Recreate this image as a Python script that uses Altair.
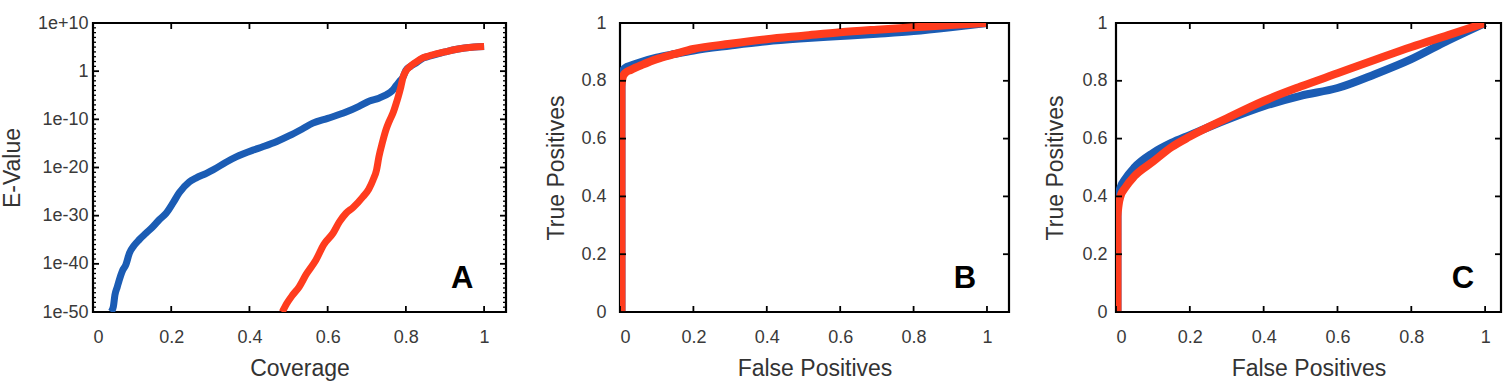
import altair as alt
import pandas as pd

# ---------------- Panel A: Coverage vs log10(E-value) ----------------
a_blue_cov = [0.046, 0.052, 0.056, 0.062, 0.067, 0.075, 0.084, 0.093, 0.105, 0.118, 0.136, 0.153,
              0.170, 0.187, 0.205, 0.220, 0.246, 0.263, 0.290, 0.307, 0.340, 0.366, 0.409, 0.434,
              0.470, 0.502, 0.535, 0.562, 0.600, 0.647, 0.680, 0.707, 0.731, 0.758, 0.767, 0.775,
              0.785, 0.793, 0.800, 0.812, 0.826, 0.844, 0.860, 0.877, 0.900, 0.920, 0.950, 0.975, 1.000]
a_blue_logE = [-50, -48.9, -46.5, -44.8, -43.4, -41.5, -40.2, -37.8, -36.2, -35.0, -33.6, -32.3,
               -30.8, -29.5, -27.3, -25.3, -23.0, -22.2, -21.2, -20.5, -18.9, -17.8, -16.4, -15.7,
               -14.6, -13.4, -12.0, -10.8, -9.8, -8.5, -7.3, -6.2, -5.6, -4.5, -3.9, -3.0,
               -2.0, -1.2, 0.2, 1.0, 1.7, 2.7, 3.1, 3.5, 4.0, 4.4, 4.8, 5.0, 5.1]
a_red_cov = [0.484, 0.495, 0.510, 0.527, 0.545, 0.570, 0.590, 0.614, 0.630, 0.647, 0.665, 0.690,
             0.705, 0.716, 0.725, 0.731, 0.740, 0.749, 0.758, 0.767, 0.774, 0.780, 0.787, 0.793,
             0.800, 0.810, 0.826, 0.844, 0.860, 0.877, 0.900, 0.920, 0.950, 0.975, 1.000]
a_red_logE = [-50, -48.3, -46.5, -44.8, -42.2, -39.2, -36.0, -33.6, -31.3, -29.5, -28.3, -26.1,
              -24.5, -22.6, -20.5, -17.8, -14.8, -12.2, -10.3, -8.7, -7.0, -5.4, -3.3, -1.2,
              0.0, 0.9, 1.9, 2.8, 3.2, 3.6, 4.0, 4.4, 4.8, 5.0, 5.1]

# ---------------- Panel B: ROC ----------------
b_blue_fp = [0.004, 0.004, 0.008, 0.015, 0.03, 0.06, 0.10, 0.15, 0.20, 0.30, 0.40, 0.50, 0.60, 0.70, 0.80, 0.90, 1.00]
b_blue_tp = [0.0, 0.80, 0.835, 0.845, 0.853, 0.866, 0.880, 0.893, 0.905, 0.922, 0.937, 0.947, 0.955, 0.963, 0.972, 0.985, 1.0]
b_red_fp = [0.004, 0.004, 0.008, 0.015, 0.03, 0.06, 0.10, 0.15, 0.20, 0.30, 0.40, 0.50, 0.60, 0.70, 0.80, 0.90, 1.00]
b_red_tp = [0.0, 0.78, 0.815, 0.828, 0.838, 0.855, 0.875, 0.893, 0.910, 0.928, 0.944, 0.956, 0.968, 0.977, 0.985, 0.993, 1.0]

# ---------------- Panel C: ROC ----------------
c_blue_fp = [0.004, 0.004, 0.007, 0.012, 0.025, 0.05, 0.10, 0.15, 0.20, 0.30, 0.40, 0.50, 0.60, 0.70, 0.80, 0.90, 1.00]
c_blue_tp = [0.0, 0.36, 0.40, 0.43, 0.46, 0.50, 0.55, 0.585, 0.612, 0.665, 0.712, 0.748, 0.775, 0.822, 0.875, 0.940, 1.0]
c_red_fp = [0.004, 0.004, 0.007, 0.012, 0.025, 0.05, 0.10, 0.15, 0.20, 0.30, 0.40, 0.50, 0.60, 0.70, 0.80, 0.90, 1.00]
c_red_tp = [0.0, 0.33, 0.37, 0.40, 0.43, 0.47, 0.52, 0.57, 0.607, 0.670, 0.730, 0.780, 0.826, 0.872, 0.917, 0.958, 1.0]

x_ticks = [0, 0.2, 0.4, 0.6, 0.8, 1]
a_y_ticks = [-50, -40, -30, -20, -10, 0, 10]
a_y_minor = [v for v in range(-50, 11) if v % 10 != 0]
roc_y_ticks = [0, 0.2, 0.4, 0.6, 0.8, 1]

BLUE = "#1b5cb4"
RED = "#ff3c1e"
FONT = "Liberation Sans"
LABEL_COLOR = "#3a3a3a"
TITLE_COLOR = "#333333"


def line_layer(xs, ys, color, sw, xdom, ydom, xaxis=None, yaxis=None):
    df = pd.DataFrame({"x": xs, "y": ys, "o": list(range(len(xs)))})
    xkw = dict(scale=alt.Scale(domain=xdom, nice=False, zero=False))
    ykw = dict(scale=alt.Scale(domain=ydom, nice=False, zero=False))
    if xaxis is not None:
        xkw["axis"] = xaxis
    if yaxis is not None:
        ykw["axis"] = yaxis
    return alt.Chart(df).mark_line(color=color, strokeWidth=sw, interpolate="monotone", clip=True).encode(
        x=alt.X("x:Q", **xkw),
        y=alt.Y("y:Q", **ykw),
        order="o:Q",
    )


def panel(lines, W, H, xdom, ydom, yticks, ytitle, xtitle, ylabel_expr, letter, lx, ly,
          ylab_pad, ytitle_pad, minor=None):
    xaxis = alt.Axis(values=x_ticks, format="~g", title=xtitle, ticks=False, domain=False, grid=False,
                     labelFont=FONT, labelFontSize=18, labelColor=LABEL_COLOR, labelPadding=16,
                     titleFont=FONT, titleFontSize=23, titleFontWeight="normal", titleColor=TITLE_COLOR,
                     titlePadding=11)
    yargs = dict(values=yticks, title=ytitle, ticks=False, domain=False, grid=False,
                 labelFont=FONT, labelFontSize=18, labelColor=LABEL_COLOR, labelPadding=ylab_pad,
                 titleFont=FONT, titleFontSize=23, titleFontWeight="normal", titleColor=TITLE_COLOR,
                 titlePadding=ytitle_pad)
    if ylabel_expr:
        yargs["labelExpr"] = ylabel_expr
    else:
        yargs["format"] = "~g"
    yaxis = alt.Axis(**yargs)

    layers = []
    for i, (xs, ys, color, sw) in enumerate(lines):
        if i == 0:
            layers.append(line_layer(xs, ys, color, sw, xdom, ydom, xaxis, yaxis))
        else:
            layers.append(line_layer(xs, ys, color, sw, xdom, ydom))

    xt = pd.DataFrame({"x": x_ticks})
    yt = pd.DataFrame({"y": yticks})
    tick_kw = dict(color="black", strokeWidth=1.8)
    layers.append(alt.Chart(xt).mark_rule(**tick_kw).encode(
        x="x:Q", y=alt.value(H), y2=alt.value(H - 6)))
    layers.append(alt.Chart(xt).mark_rule(**tick_kw).encode(
        x="x:Q", y=alt.value(0), y2=alt.value(6)))
    layers.append(alt.Chart(yt).mark_rule(**tick_kw).encode(
        y="y:Q", x=alt.value(0), x2=alt.value(6)))
    layers.append(alt.Chart(yt).mark_rule(**tick_kw).encode(
        y="y:Q", x=alt.value(W), x2=alt.value(W - 6)))
    if minor:
        mt = pd.DataFrame({"y": minor})
        layers.append(alt.Chart(mt).mark_rule(color="black", strokeWidth=1.3).encode(
            y="y:Q", x=alt.value(0), x2=alt.value(3)))
        layers.append(alt.Chart(mt).mark_rule(color="black", strokeWidth=1.3).encode(
            y="y:Q", x=alt.value(W), x2=alt.value(W - 3)))

    lt = pd.DataFrame({"x": [lx], "y": [ly], "t": [letter]})
    layers.append(alt.Chart(lt).mark_text(font=FONT, fontSize=31, fontWeight="bold", color="black",
                                          align="center", baseline="alphabetic").encode(
        x="x:Q", y="y:Q", text="t:N"))

    return alt.layer(*layers).properties(width=W, height=H)


pa = panel([(a_blue_cov, a_blue_logE, BLUE, 7), (a_red_cov, a_red_logE, RED, 7)],
           413, 289, [0, 1.056], [-50, 10], a_y_ticks, "E-Value", "Coverage",
           "datum.value == 0 ? '1' : (datum.value > 0 ? '1e+' + datum.value : '1e' + datum.value)",
           "A", 0.944, -45, 5, 13, minor=a_y_minor)
pb = panel([(b_blue_fp, b_blue_tp, BLUE, 8), (b_red_fp, b_red_tp, RED, 8)],
           389, 289, [0, 1.06], [0, 1], roc_y_ticks, "True Positives", "False Positives", None,
           "B", 0.94, 0.083, 14, 12)
pc = panel([(c_blue_fp, c_blue_tp, BLUE, 8), (c_red_fp, c_red_tp, RED, 8)],
           385, 289, [0, 1.043], [0, 1], roc_y_ticks, "True Positives", "False Positives", None,
           "C", 0.94, 0.083, 9, 14)

inner = alt.hconcat(pa, pb, spacing=36)
chart = alt.hconcat(inner, pc, spacing=32).properties(
    padding={"left": 0, "top": 12, "right": 0, "bottom": 0},
    background="white",
).configure_view(stroke="black", strokeWidth=2.2)

chart.save("out.html", embed_options={"renderer": "svg", "actions": False})
